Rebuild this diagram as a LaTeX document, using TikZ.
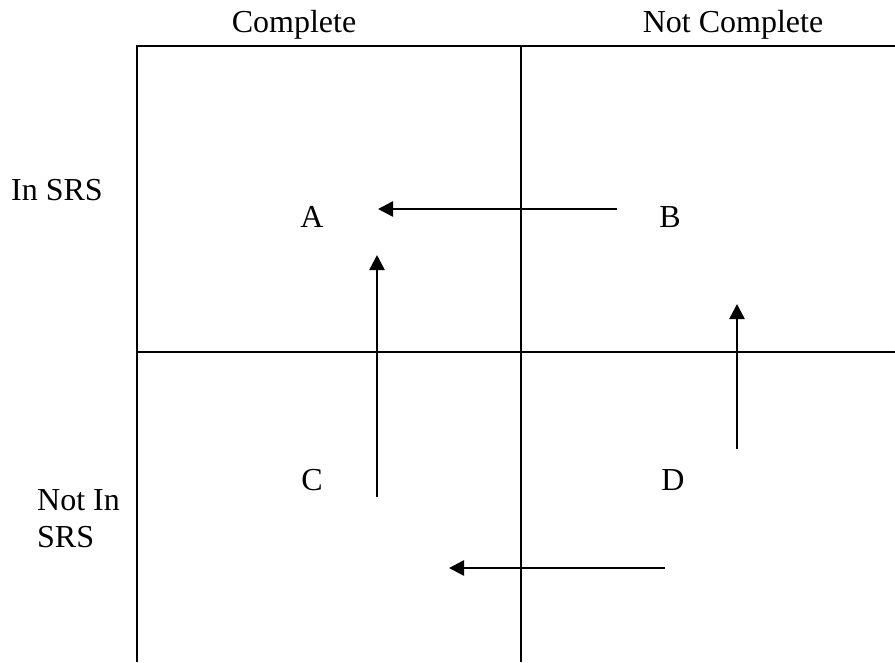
\documentclass[tikz,border=0pt]{standalone}
\usepackage{fontspec}
\setmainfont{Liberation Serif}
\usetikzlibrary{arrows.meta}
\begin{document}
\begin{tikzpicture}[x=1pt,y=-1pt,
  grid/.style={line width=2.6pt},
  arr/.style={line width=2.6pt,-{Triangle[length=15pt,width=15pt]}},
  lbl/.style={font=\fontsize{32}{37}\selectfont,inner sep=0pt}]
\useasboundingbox (0,0) rectangle (895,662);
% grid
\coordinate (tl) at (137,46);
\coordinate (tr) at (895,46);
\coordinate (bl) at (137,662);
\coordinate (tm) at (521,46);
\coordinate (bm) at (521,662);
\coordinate (ml) at (137,352);
\coordinate (mr) at (895,352);
\draw[grid] (bl) -- (tl) -- (tr);
\draw[grid] (tm) -- (bm);
\draw[grid] (ml) -- (mr);
% headers
\node[lbl] (hc) at (294,25) {Complete};
\node[lbl] (hn) at (733,25) {Not Complete};
\node[lbl] (rin) at (57,190) {In SRS};
\node[lbl,align=left,anchor=west] (rnot) at (37,519) {Not In\\SRS};
% quadrant letters
\node[lbl] (A) at (312,217) {A};
\node[lbl] (B) at (670,217) {B};
\node[lbl] (C) at (312,480) {C};
\node[lbl] (D) at (673,480) {D};
% arrows
\coordinate (a1s) at (617,209);
\coordinate (a1e) at (378,209);
\coordinate (a2s) at (377,497);
\coordinate (a2e) at (377,255);
\coordinate (a3s) at (737,449);
\coordinate (a3e) at (737,304);
\coordinate (a4s) at (665,568);
\coordinate (a4e) at (449,568);
\draw[arr] (a1s) -- (a1e);
\draw[arr] (a2s) -- (a2e);
\draw[arr] (a3s) -- (a3e);
\draw[arr] (a4s) -- (a4e);
\end{tikzpicture}
\end{document}
